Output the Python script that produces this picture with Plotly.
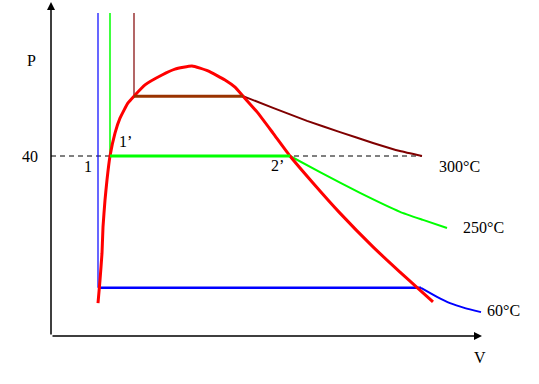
import plotly.graph_objects as go

# Saturation dome (V, P)
dome_V = [47, 49, 51, 52, 54, 56, 59, 64, 69, 77, 83, 94, 111, 124, 141, 157, 174, 184, 192,
          206, 222, 239, 262, 289, 322, 349, 367, 382]
dome_P = [7.3, 12.4, 18.4, 24.2, 30.2, 34.7, 40.0, 45.1, 48.4, 51.8, 53.3, 55.8, 58.0, 59.3, 60.0,
          58.9, 56.9, 55.3, 53.3, 49.8, 45.1, 40.0, 34.0, 27.3, 19.8, 14.2, 10.6, 7.6]

# 60 °C isotherm
t60_liq_V = [47, 47]
t60_liq_P = [71.8, 10.7]
t60_sat_V = [47, 370]
t60_sat_P = [10.7, 10.7]
t60_vap_V = [370, 386, 399, 414, 430]
t60_vap_P = [10.7, 8.7, 7.3, 6.2, 5.3]

# 250 °C isotherm
t250_liq_V = [59, 59]
t250_liq_P = [71.8, 40.0]
t250_sat_V = [59, 239]
t250_sat_P = [40.0, 40.0]
t250_vap_V = [239, 269, 309, 349, 372, 396]
t250_vap_P = [40.0, 36.4, 31.8, 27.6, 25.8, 24.0]

# 300 °C isotherm
t300_liq_V = [83, 83]
t300_liq_P = [71.8, 53.3]
t300_sat_V = [83, 192]
t300_sat_P = [53.3, 53.3]
t300_vap_V = [192, 222, 256, 289, 322, 349, 371]
t300_vap_P = [53.3, 50.7, 47.8, 45.3, 42.9, 41.1, 40.0]

# reference pressure line
p40_V = [0, 371]
p40_P = [40, 40]

# labels: (text, V, P)
labels = [("P", -20, 61.3), ("V", 429, -4.7), ("40", -21.5, 40), ("1", 37, 37.6),
          ("1’", 74, 43.3), ("2’", 226, 37.8), ("300°C", 408, 37.6),
          ("250°C", 432, 24.2), ("60°C", 452, 5.6)]

fig = go.Figure()

def add(xs, ys, color, width, dash=None, shape="linear", smoothing=0.4):
    line = dict(color=color, width=width, dash=dash, shape=shape)
    if shape == "spline":
        line["smoothing"] = smoothing
    fig.add_trace(go.Scatter(x=xs, y=ys, mode="lines", line=line,
                             showlegend=False, hoverinfo="skip"))

add(p40_V, p40_P, "black", 1, dash="5px,4px")
add(t60_liq_V, t60_liq_P, "#0000FF", 1.2)
add(t60_sat_V, t60_sat_P, "#0000FF", 2.5)
add(t60_vap_V, t60_vap_P, "#0000FF", 2, shape="spline")
add(t250_liq_V, t250_liq_P, "#00FF00", 1.5)
add(t250_vap_V, t250_vap_P, "#00FF00", 2, shape="spline")
add(t300_liq_V, t300_liq_P, "#800000", 1.2)
add(t300_vap_V, t300_vap_P, "#800000", 2, shape="spline")
add(dome_V, dome_P, "#FF0000", 3, shape="spline")
add(t250_sat_V, t250_sat_P, "#00FF00", 3)
add(t300_sat_V, t300_sat_P, "#993300", 3)

# axes with arrows
fig.add_annotation(x=0, y=74.2, ax=0, ay=0, xref="x", yref="y", axref="x", ayref="y",
                   showarrow=True, arrowhead=2, arrowsize=1.07, arrowwidth=1.5,
                   arrowcolor="black", text="", standoff=0)
fig.add_annotation(x=431, y=0, ax=0, ay=0, xref="x", yref="y", axref="x", ayref="y",
                   showarrow=True, arrowhead=2, arrowsize=1.07, arrowwidth=1.5,
                   arrowcolor="black", text="", standoff=0)

for t, v, p in labels:
    fig.add_annotation(x=v, y=p, xref="x", yref="y", text=t, showarrow=False,
                       xanchor="center", yanchor="middle",
                       font=dict(family="Liberation Serif", size=16, color="black"))

fig.update_layout(width=539, height=384, margin=dict(l=0, r=0, t=0, b=0),
                  paper_bgcolor="white", plot_bgcolor="white",
                  xaxis=dict(range=[-51, 488], visible=False, fixedrange=True),
                  yaxis=dict(range=[-10.667, 74.667], visible=False, fixedrange=True))

fig.write_html("out.html", config={"displayModeBar": False},
               post_script="document.body.style.margin='0';document.body.style.overflow='hidden';")
